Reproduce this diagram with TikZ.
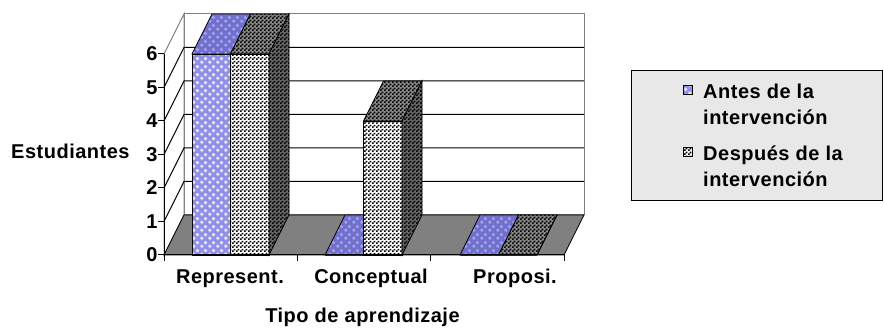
\documentclass[tikz,border=0pt]{standalone}
\usepackage{fontspec}
\setmainfont{Liberation Sans Bold}[LetterSpace=2.5]
\usetikzlibrary{patterns,positioning}

\definecolor{wallgray}{HTML}{808080}
\definecolor{floorgray}{HTML}{808080}
\definecolor{antesblue}{HTML}{9090EA}
\definecolor{antestop}{HTML}{7070CC}
\definecolor{legendbg}{HTML}{E8E8E8}

\pgfdeclarepatternformonly{bubbles}{\pgfqpoint{0pt}{0pt}}{\pgfqpoint{8pt}{8pt}}{\pgfqpoint{8pt}{8pt}}{%
  \pgfpathcircle{\pgfqpoint{2pt}{2pt}}{2pt}
  \pgfpathcircle{\pgfqpoint{6pt}{6pt}}{2pt}
  \pgfusepath{fill}}
\pgfdeclarepatternformonly{checks}{\pgfqpoint{0pt}{0pt}}{\pgfqpoint{4pt}{4pt}}{\pgfqpoint{4pt}{4pt}}{%
  \pgfpathrectangle{\pgfqpoint{0pt}{0pt}}{\pgfqpoint{2pt}{2pt}}
  \pgfpathrectangle{\pgfqpoint{2pt}{2pt}}{\pgfqpoint{2pt}{2pt}}
  \pgfusepath{fill}}

\begin{document}
\begin{tikzpicture}[x=1pt,y=1pt,
   every node/.style={font=\fontsize{20}{26.5}\selectfont, inner sep=0pt},
   wall/.style={fill=white, draw=wallgray, line width=1pt},
   grid line/.style={black, line width=1pt},
   antes front/.style={draw=black, line width=0.8pt, preaction={fill=antesblue}, pattern=bubbles, pattern color=white!80!antesblue},
   antes top/.style={draw=black, line width=0.8pt, preaction={fill=antestop}, pattern=bubbles, pattern color=antesblue!85!white},
   despues front/.style={draw=black, line width=0.8pt, preaction={fill=white}, pattern=checks, pattern color=black},
   despues top/.style={draw=black, line width=0.8pt, preaction={fill=black!45}, pattern=checks, pattern color=black},
   despues side/.style={draw=black, line width=0.8pt, preaction={fill=black!60}, pattern=checks, pattern color=black}]

   \useasboundingbox (0,0) rectangle (884,327);

   % walls and floor
   \draw[wall] (184,112) rectangle (584,313);
   \draw[wall] (164,72) -- (184,112) -- (184,313) -- (164,273) -- cycle;
   \foreach \n in {1,...,5}
      \draw[grid line] (164,{72+33.5*\n}) -- ++(20,40) -- (584,{112+33.5*\n});
   \draw[fill=floorgray, line width=0.8pt] (164,72) -- (184,112) -- (584,112) -- (564,72) -- cycle;

   % bars: x / antes / despues
   \foreach \x/\a/\d [evaluate=\a as \ya using 72+33.5*\a, evaluate=\d as \yd using 72+33.5*\d]
      in {192/6/6, 325/0/4, 460/0/0} {
      \draw[antes front] (\x,72) rectangle (\x+38.5,\ya);
      \draw[antes top] (\x,\ya) -- ++(20,40) -- ++(38.5,0) -- ++(-20,-40) -- cycle;
      \draw[despues front] (\x+38.5,72) rectangle (\x+77,\yd);
      \draw[despues top] (\x+38.5,\yd) -- ++(20,40) -- ++(38.5,0) -- ++(-20,-40) -- cycle;
      \draw[despues side] (\x+77,72) -- ++(20,40) -- (\x+97,\yd+40) -- (\x+77,\yd) -- cycle;
   }

   % axes
   \draw[line width=1pt] (164,273) -- (164,72) -- (564,72);
   \foreach \n in {0,...,6}
      \draw[line width=1pt] (158,{72+33.5*\n}) -- (164,{72+33.5*\n})
         node[anchor=east, xshift=-6pt] (y\n) {\n};
   \foreach \x in {164,297,430,564}
      \draw[line width=1pt] (\x,72) -- (\x,66);

   \node[anchor=base] (rep) at (230,44) {Represent.};
   \node[anchor=base] (con) at (371,44) {Conceptual};
   \node[anchor=base] (pro) at (515,44) {Proposi.};
   \node[anchor=base] (xlabel) at (362.5,5) {Tipo de aprendizaje};
   \node[anchor=base west] (ylabel) at (11,168) {Estudiantes};

   % legend
   \draw[fill=legendbg, line width=1pt] (631,126) rectangle (882,256);
   \node[anchor=base west, align=left] (antes) at (703,202) {Antes de la\\intervención};
   \node[anchor=base west, align=left] (despues) at (703,140) {Después de la\\intervención};
   \node[antes front, line width=0.6pt, minimum size=9pt, anchor=south east] (antesmark)
      at ([xshift=-10pt,yshift=30.5pt]antes.base west) {};
   \node[despues front, line width=0.6pt, minimum size=9pt, anchor=south east] (despuesmark)
      at ([xshift=-10pt,yshift=30.5pt]despues.base west) {};
\end{tikzpicture}
\end{document}
